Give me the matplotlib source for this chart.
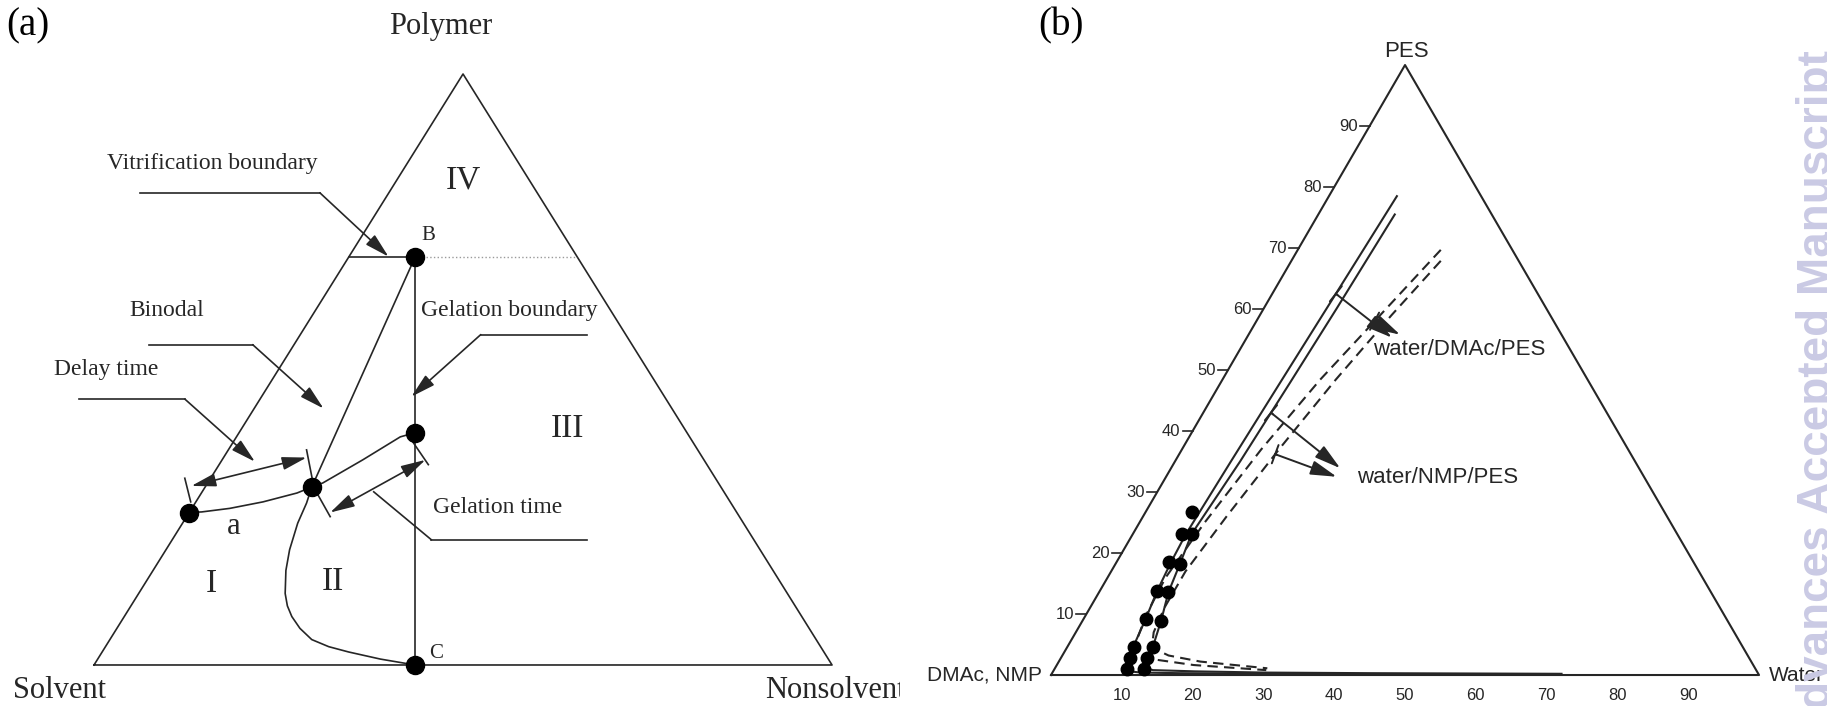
import numpy as np
import matplotlib.pyplot as plt

# ---------------------------------------------------------------------------
# Panel (a): schematic phase diagram, normalised triangle (base 0..1, apex y=1)
# ---------------------------------------------------------------------------

TRIANGLE_X = [0.0, 1.0, 0.5, 0.0]
TRIANGLE_Y = [0.0, 0.0, 1.0, 0.0]

POINT_B = (0.435, 0.69)
POINT_C = (0.435, 0.0)
POINT_GEL = (0.435, 0.393)
POINT_BIN = (0.295, 0.301)
POINT_A = (0.129, 0.258)
VITRIF_LEFT = 0.345
VITRIF_RIGHT = 0.655

BINODAL_X = [0.435, 0.295, 0.288, 0.276, 0.265, 0.260, 0.259, 0.262, 0.268, 0.279, 0.295, 0.318, 0.345, 0.388, 0.435]
BINODAL_Y = [0.690, 0.301, 0.274, 0.240, 0.195, 0.160, 0.121, 0.100, 0.082, 0.062, 0.043, 0.031, 0.022, 0.010, 0.000]

PATH1_X = [0.129, 0.146, 0.184, 0.229, 0.275, 0.295]
PATH1_Y = [0.258, 0.259, 0.265, 0.276, 0.291, 0.301]
PATH2_X = [0.295, 0.310, 0.364, 0.415, 0.435]
PATH2_Y = [0.301, 0.308, 0.347, 0.386, 0.393]

DELAY_ARROW = [(0.132, 0.303), (0.288, 0.351)]
DELAY_TICKS = [[(0.123, 0.316), (0.131, 0.276)], [(0.288, 0.364), (0.296, 0.313)]]
GEL_ARROW = [(0.320, 0.258), (0.449, 0.347)]
GEL_TICKS = [[(0.302, 0.291), (0.320, 0.251)], [(0.430, 0.381), (0.453, 0.339)]]

# label text, text position, leader start, leader elbow, leader tip, arrow head
LEADER_TEXT = ["Vitrification boundary", "Binodal", "Delay time",
               "Gelation boundary", "Gelation time"]
LEADER_TEXT_XY = [(0.160, 0.849), (0.098, 0.600), (0.017, 0.500),
                  (0.563, 0.600), (0.547, 0.266)]
LEADER_START = [(0.062, 0.799), (0.074, 0.542), (-0.020, 0.450),
                (0.668, 0.559), (0.668, 0.212)]
LEADER_ELBOW = [(0.306, 0.799), (0.215, 0.542), (0.123, 0.450),
                (0.524, 0.559), (0.457, 0.212)]
LEADER_TIP = [(0.399, 0.691), (0.311, 0.434), (0.218, 0.344),
              (0.430, 0.454), (0.379, 0.293)]
LEADER_HEAD = [True, True, True, True, False]

REGION_TEXT = ["IV", "III", "I", "II", "a"]
REGION_XY = [(0.500, 0.821), (0.641, 0.400), (0.159, 0.138), (0.323, 0.141), (0.189, 0.234)]

# ---------------------------------------------------------------------------
# Panel (b): water / solvent / PES ternary data (mass fractions)
# ---------------------------------------------------------------------------

S1_W = [0.096, 0.090, 0.084, 0.079, 0.075, 0.077, 0.081, 0.088, 0.093, 0.097, 0.102, 0.108, 0.125, 0.18, 0.30, 0.50, 0.72]
S1_P = [0.785, 0.630, 0.480, 0.350, 0.230, 0.185, 0.138, 0.090, 0.046, 0.028, 0.012, 0.006, 0.004, 0.003, 0.002, 0.0015, 0.001]
S2_W = [0.108, 0.103, 0.098, 0.092, 0.083, 0.091, 0.098, 0.111, 0.121, 0.122, 0.126, 0.140, 0.20, 0.30, 0.45, 0.72]
S2_P = [0.755, 0.600, 0.480, 0.350, 0.231, 0.182, 0.1355, 0.089, 0.045, 0.027, 0.012, 0.008, 0.006, 0.004, 0.003, 0.002]
D1_W = [0.202, 0.170, 0.138, 0.112, 0.092, 0.082, 0.085, 0.092, 0.103, 0.130, 0.193, 0.30]
D1_P = [0.697, 0.590, 0.484, 0.370, 0.250, 0.160, 0.100, 0.060, 0.035, 0.026, 0.0164, 0.008]
D2_W = [0.211, 0.186, 0.160, 0.137, 0.118, 0.105, 0.105, 0.110, 0.120, 0.150, 0.200, 0.30]
D2_P = [0.679, 0.590, 0.484, 0.370, 0.260, 0.170, 0.110, 0.070, 0.045, 0.032, 0.022, 0.011]

CLOUD_W = [0.0648, 0.0699, 0.0832, 0.0745, 0.0912, 0.0802, 0.0979, 0.0887,
           0.1109, 0.0940, 0.1209, 0.0974, 0.1214, 0.1017, 0.1262]
CLOUD_P = [0.2678, 0.2311, 0.2311, 0.1852, 0.1820, 0.1382, 0.1355, 0.0918,
           0.0890, 0.0464, 0.0454, 0.0284, 0.0273, 0.0104, 0.0104]

SYSTEMS = ["water/DMAc/PES", "water/NMP/PES"]
SYSTEM_LABEL_WP = [(0.188, 0.533), (0.271, 0.323)]
# each system points at one solid and one dashed curve
ARROW_CURVE = [("S1", "D1"), ("S2", "D2")]
ARROW_START_P = [(0.625, 0.580), (0.430, 0.362)]
ARROW_END_WP = [[(0.205, 0.553), (0.214, 0.558)], [(0.239, 0.339), (0.241, 0.325)]]

TICKS = [10, 20, 30, 40, 50, 60, 70, 80, 90]

INK = "#262626"
SERIF = ["Liberation Serif", "DejaVu Serif"]
SANS = ["Liberation Sans", "DejaVu Sans"]


def tern(w, p):
    """Water / PES fractions to triangle coordinates (u along base, v = PES)."""
    w = np.asarray(w, dtype=float)
    p = np.asarray(p, dtype=float)
    return w + p / 2, p


fig = plt.figure(figsize=(18.27, 7.06), dpi=100)

# --- panel (a) -------------------------------------------------------------
ax = fig.add_axes([0, 0, 900 / 1827, 1])
ax.set_xlim(-0.1274, 1.0921)
ax.set_ylim(-0.0694, 1.1252)
ax.axis("off")

lw = 1.2
ax.plot(TRIANGLE_X, TRIANGLE_Y, color=INK, lw=lw)
ax.plot([VITRIF_LEFT, POINT_B[0]], [POINT_B[1], POINT_B[1]], color=INK, lw=lw)
ax.plot([POINT_B[0], VITRIF_RIGHT], [POINT_B[1], POINT_B[1]], color="#9a9a9a", lw=1.0, ls=":")
ax.plot([POINT_B[0], POINT_C[0]], [POINT_B[1], POINT_C[1]], color=INK, lw=lw)
ax.plot(BINODAL_X, BINODAL_Y, color=INK, lw=lw)
ax.plot(PATH1_X, PATH1_Y, color=INK, lw=lw)
ax.plot(PATH2_X, PATH2_Y, color=INK, lw=lw)

for pt in [POINT_B, POINT_C, POINT_GEL, POINT_BIN, POINT_A]:
    ax.plot(*pt, marker="o", ms=13, color="black", zorder=5)

head = dict(arrowstyle="<|-|>,head_length=0.75,head_width=0.2", color=INK,
            lw=lw, shrinkA=0, shrinkB=0, mutation_scale=20)
for arr in [DELAY_ARROW, GEL_ARROW]:
    ax.annotate("", xy=arr[1], xytext=arr[0], arrowprops=head)
for ticks in DELAY_TICKS + GEL_TICKS:
    ax.plot([ticks[0][0], ticks[1][0]], [ticks[0][1], ticks[1][1]], color=INK, lw=lw)

single = dict(arrowstyle="-|>,head_length=0.75,head_width=0.2", color=INK,
              lw=lw, shrinkA=0, shrinkB=0, mutation_scale=20)
for txt, txy, s, e, t, has_head in zip(LEADER_TEXT, LEADER_TEXT_XY, LEADER_START,
                                        LEADER_ELBOW, LEADER_TIP, LEADER_HEAD):
    ax.text(*txy, txt, family=SERIF, fontsize=17, color=INK, ha="center", va="center")
    ax.plot([s[0], e[0]], [s[1], e[1]], color=INK, lw=lw)
    if has_head:
        ax.annotate("", xy=t, xytext=e, arrowprops=single)
    else:
        ax.plot([e[0], t[0]], [e[1], t[1]], color=INK, lw=lw)

for txt, xy in zip(REGION_TEXT, REGION_XY):
    ax.text(*xy, txt, family=SERIF, fontsize=24 if txt != "a" else 22,
            color=INK, ha="center", va="center")
ax.text(0.444, 0.726, "B", family=SERIF, fontsize=15, color=INK, ha="left", va="center")
ax.text(0.463, 0.020, "C", family=SERIF, fontsize=15, color=INK, ha="center", va="center")

ax.text(0.470, 1.0677, "Polymer", family=SERIF, fontsize=22, color=INK, ha="center", va="baseline")
ax.text(-0.047, -0.0558, "Solvent", family=SERIF, fontsize=22, color=INK, ha="center", va="baseline")
ax.text(0.910, -0.0558, "Nonsolvent", family=SERIF, fontsize=22, color=INK, ha="left",
        va="baseline", clip_on=True)

# --- panel (b) -------------------------------------------------------------
bx = fig.add_axes([900 / 1827, 0, 927 / 1827, 1])
bx.set_xlim(-0.2133, 1.0960)
bx.set_ylim(-0.0508, 1.1066)
bx.axis("off")

lwb = 1.5
bx.plot([0, 1, 0.5, 0], [0, 0, 1, 0], color=INK, lw=lwb)

curves = {"S1": (S1_W, S1_P), "S2": (S2_W, S2_P), "D1": (D1_W, D1_P), "D2": (D2_W, D2_P)}
for name, (cw, cp) in curves.items():
    u, v = tern(cw, cp)
    bx.plot(u, v, color=INK, lw=lwb, ls="-" if name[0] == "S" else (0, (5, 3)))

u, v = tern(CLOUD_W, CLOUD_P)
bx.plot(u, v, "o", ms=9, color="black", zorder=5)

arrow_b = dict(arrowstyle="-|>,head_length=0.8,head_width=0.22", color=INK,
               lw=1.4, shrinkA=0, shrinkB=0, mutation_scale=20)
bar_b = dict(arrowstyle="|-|,widthA=0.35,widthB=0", color=INK,
             lw=1.4, shrinkA=0, shrinkB=0, mutation_scale=20)
for label, lab_wp, names, starts, ends in zip(SYSTEMS, SYSTEM_LABEL_WP, ARROW_CURVE,
                                              ARROW_START_P, ARROW_END_WP):
    for name, p0, end in zip(names, starts, ends):
        cw, cp = curves[name]
        w0 = np.interp(p0, cp[::-1], cw[::-1])
        su, sv = tern(w0, p0)
        eu, ev = tern(*end)
        bx.annotate("", xy=(eu, ev), xytext=(su, sv), arrowprops=arrow_b)
        mu, mv = su + 0.03 * (eu - su), sv + 0.03 * (ev - sv)
        bx.annotate("", xy=(mu, mv), xytext=(su, sv), arrowprops=bar_b)
    lu, lv = tern(*lab_wp)
    bx.text(lu, lv, label, family=SANS, fontsize=16, color=INK, ha="left", va="center")

for t in TICKS:
    f = t / 100
    eu, ev = tern(0, f)
    bx.plot([eu - 0.0141, eu], [ev, ev], color=INK, lw=1.2)
    bx.text(eu - 0.017, ev, str(t), family=SANS, fontsize=12, color=INK,
            ha="right", va="center")
    bu, _ = tern(f, 0)
    bx.text(bu, -0.0328, str(t), family=SANS, fontsize=12, color=INK,
            ha="center", va="center")

bx.text(0.5014, 1.0126, "PES", family=SANS, fontsize=16, color=INK, ha="center", va="baseline")
bx.text(-0.0127, -0.0098, "DMAc, NMP", family=SANS, fontsize=15, color=INK, ha="right", va="baseline")
bx.text(1.0137, -0.0098, "Water", family=SANS, fontsize=15, color=INK, ha="left", va="baseline")

fig.text(6 / 1827, 1 - 26 / 706, "(a)", family=SERIF, fontsize=28, color="black", ha="left", va="center")
fig.text(1038 / 1827, 1 - 26 / 706, "(b)", family=SERIF, fontsize=28, color="black", ha="left", va="center")
fig.text(1796 / 1827, 1 - 50 / 706, "Advances Accepted Manuscript", family=SANS,
         fontsize=33, fontweight="bold", color="#cacae4", rotation=90,
         ha="left", va="top", zorder=10)

fig.savefig("out.png", dpi=100, facecolor="white")
